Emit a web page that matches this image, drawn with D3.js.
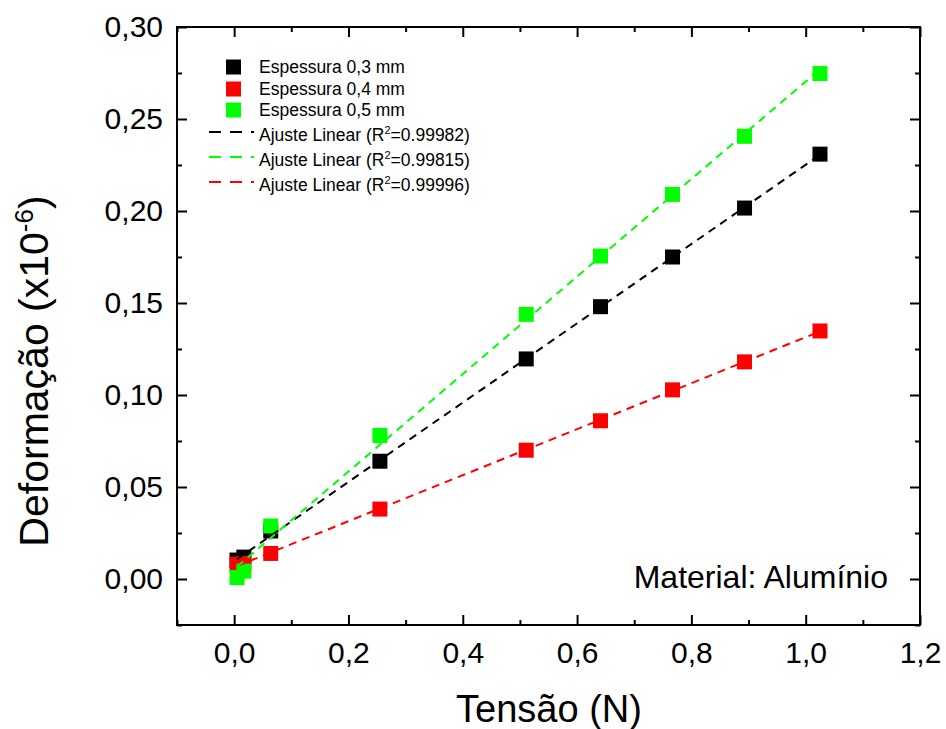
<!DOCTYPE html>
<html>
<head>
<meta charset="utf-8">
<script src="https://cdn.jsdelivr.net/npm/d3@7"></script>
<style>
  html, body { margin: 0; padding: 0; background: #fff; }
  svg { display: block; font-family: Arial, "Liberation Sans", sans-serif; }
</style>
</head>
<body>
<svg id="chart" width="946" height="729"></svg>
<script>
// ---- Data ----
const tensao = [0.005, 0.017, 0.064, 0.255, 0.511, 0.641, 0.767, 0.893, 1.025];
const esp03 = [0.0103, 0.0119, 0.0261, 0.0640, 0.1196, 0.1480, 0.1750, 0.2016, 0.2309];
const esp04 = [0.0080, 0.0085, 0.0139, 0.0380, 0.0700, 0.0860, 0.1028, 0.1180, 0.1348];
const esp05 = [0.0008, 0.0043, 0.0288, 0.0780, 0.1438, 0.1755, 0.2090, 0.2406, 0.2747];
const seriesNames = ["Espessura 0,3 mm", "Espessura 0,4 mm", "Espessura 0,5 mm"];
const seriesColors = ["#000000", "#ff0000", "#00ff00"];
const fitR2 = ["0.99982", "0.99815", "0.99996"];     // legend order: black, green, red
const fitColors = ["#000000", "#00ff00", "#ff0000"];
const xTicks = [0, 0.2, 0.4, 0.6, 0.8, 1.0, 1.2];
const xMinorTicks = [-0.1, 0.1, 0.3, 0.5, 0.7, 0.9, 1.1];
const yTicks = [0, 0.05, 0.10, 0.15, 0.20, 0.25, 0.30];
const yMinorTicks = [-0.025, 0.025, 0.075, 0.125, 0.175, 0.225, 0.275];

// ---- Layout ----
const svg = d3.select("#chart");
const L = 177, R = 920, T = 27, B = 625;
const x = d3.scaleLinear().domain([-0.1, 1.2]).range([L, R]);
const y = d3.scaleLinear().domain([-0.025, 0.30]).range([B, T]);

const fmtX = v => d3.format(".1f")(v).replace(".", ",");
const fmtY = v => d3.format(".2f")(v).replace(".", ",");

// ---- Axes (ticks inward) ----
function styleAxis(g) {
  g.select(".domain").remove();
  g.selectAll(".tick line").attr("stroke", "#000").attr("stroke-width", 2);
}
// bottom
svg.append("g").attr("transform", `translate(0,${B})`)
  .call(d3.axisBottom(x).tickValues(xTicks).tickSize(-10).tickFormat(fmtX))
  .call(styleAxis)
  .call(g => g.selectAll(".tick text").attr("y", 38).attr("dy", 0)
    .attr("font-size", 30).attr("font-family", "Arial, 'Liberation Sans', sans-serif").attr("fill", "#000"));
svg.append("g").attr("transform", `translate(0,${B})`)
  .call(d3.axisBottom(x).tickValues(xMinorTicks).tickSize(-5).tickFormat(""))
  .call(styleAxis);
// top
svg.append("g").attr("transform", `translate(0,${T})`)
  .call(d3.axisTop(x).tickValues(xTicks).tickSize(-10).tickFormat(""))
  .call(styleAxis);
svg.append("g").attr("transform", `translate(0,${T})`)
  .call(d3.axisTop(x).tickValues(xMinorTicks).tickSize(-5).tickFormat(""))
  .call(styleAxis);
// left
svg.append("g").attr("transform", `translate(${L},0)`)
  .call(d3.axisLeft(y).tickValues(yTicks).tickSize(-10).tickFormat(fmtY))
  .call(styleAxis)
  .call(g => g.selectAll(".tick text").attr("x", -14).attr("dy", "0.33em")
    .attr("font-size", 30).attr("font-family", "Arial, 'Liberation Sans', sans-serif").attr("fill", "#000"));
svg.append("g").attr("transform", `translate(${L},0)`)
  .call(d3.axisLeft(y).tickValues(yMinorTicks).tickSize(-5).tickFormat(""))
  .call(styleAxis);
// right
svg.append("g").attr("transform", `translate(${R},0)`)
  .call(d3.axisRight(y).tickValues(yTicks).tickSize(-10).tickFormat(""))
  .call(styleAxis);
svg.append("g").attr("transform", `translate(${R},0)`)
  .call(d3.axisRight(y).tickValues(yMinorTicks).tickSize(-5).tickFormat(""))
  .call(styleAxis);

// frame
svg.append("rect").attr("x", L).attr("y", T).attr("width", R - L).attr("height", B - T)
  .attr("fill", "none").attr("stroke", "#000").attr("stroke-width", 2);

// ---- Markers ----
const allSeries = [esp03, esp04, esp05];
const sq = 15;
allSeries.forEach((vals, i) => {
  svg.append("g").selectAll("rect")
    .data(tensao.map((t, j) => [t, vals[j]]))
    .join("rect")
    .attr("x", d => x(d[0]) - sq / 2)
    .attr("y", d => y(d[1]) - sq / 2)
    .attr("width", sq).attr("height", sq)
    .attr("fill", seriesColors[i]);
});

// ---- Linear fits (least squares of each series) ----
function linfit(xs, ys) {
  const mx = d3.mean(xs), my = d3.mean(ys);
  let sxy = 0, sxx = 0;
  xs.forEach((v, k) => { sxy += (v - mx) * (ys[k] - my); sxx += (v - mx) * (v - mx); });
  const b = sxy / sxx;
  return { b, a: my - b * mx };
}
const line = d3.line().x(d => x(d[0])).y(d => y(d[1]));
allSeries.forEach((vals, i) => {
  const f = linfit(tensao, vals);
  const x0 = d3.min(tensao), x1 = d3.max(tensao);
  svg.append("path")
    .attr("d", line([[x0, f.a + f.b * x0], [x1, f.a + f.b * x1]]))
    .attr("fill", "none").attr("stroke", seriesColors[i])
    .attr("stroke-width", 2).attr("stroke-dasharray", "8,6");
});

// ---- Legend ----
const leg = svg.append("g").attr("font-size", 17.5).attr("fill", "#000");
const legSqY = [67, 89, 110];
seriesNames.forEach((n, i) => {
  leg.append("rect").attr("x", 226).attr("y", legSqY[i] - 7.5).attr("width", 15).attr("height", 15)
    .attr("fill", seriesColors[i]);
  leg.append("text").attr("x", 259).attr("y", legSqY[i] + 6).text(n);
});
const legLineY = [132, 157, 182];
fitR2.forEach((r, i) => {
  leg.append("line").attr("x1", 209).attr("x2", 254).attr("y1", legLineY[i]).attr("y2", legLineY[i])
    .attr("stroke", fitColors[i]).attr("stroke-width", 2).attr("stroke-dasharray", "12,9");
  const t = leg.append("text").attr("x", 259).attr("y", legLineY[i] + 8.5);
  t.append("tspan").text("Ajuste Linear (R");
  t.append("tspan").attr("font-size", 11).attr("dy", -7).text("2");
  t.append("tspan").attr("dy", 7).text("=" + r + ")");
});

// ---- Annotation ----
svg.append("text").attr("x", 888).attr("y", 588).attr("text-anchor", "end")
  .attr("font-size", 32).text("Material: Alumínio");

// ---- Axis titles ----
svg.append("text").attr("x", 549).attr("y", 722).attr("text-anchor", "middle")
  .attr("font-size", 38).text("Tensão (N)");
const yt = svg.append("text").attr("transform", "translate(48,371) rotate(-90)")
  .attr("text-anchor", "middle").attr("font-size", 41);
yt.append("tspan").text("Deformação (x10");
yt.append("tspan").attr("font-size", 26).attr("dy", -15).text("-6");
yt.append("tspan").attr("dy", 15).text(")");
</script>
</body>
</html>
